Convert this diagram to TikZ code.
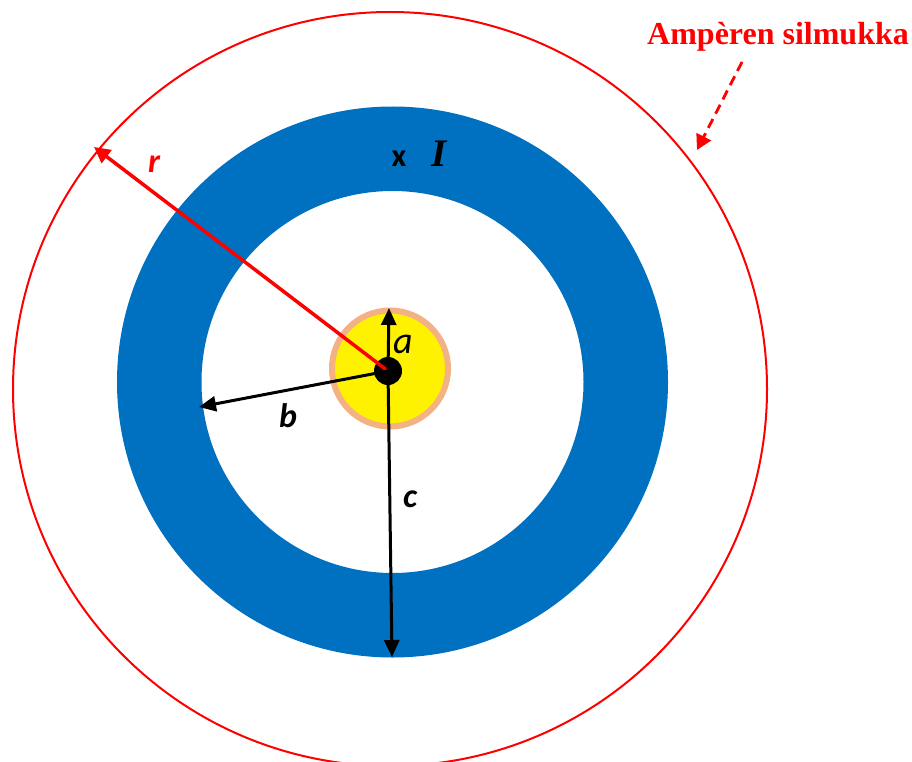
\documentclass[tikz,border=0pt]{standalone}
\usepackage{fontspec}
\setmainfont{Liberation Serif}
\newfontfamily\calib{Carlito}
\usetikzlibrary{arrows.meta}
\definecolor{ringblue}{HTML}{0070C0}
\definecolor{peach}{HTML}{F4B183}
\definecolor{lred}{HTML}{FF0000}
\tikzset{
  blackarrow/.style={line width=3pt, draw=black, -{Triangle[length=17pt,width=15pt]}},
  redarrow/.style={line width=3.5pt, draw=lred, -{Triangle[length=16pt,width=16pt]}},
  dasharrow/.style={line width=2.8pt, draw=lred, dash pattern=on 10pt off 6pt, -{Triangle[length=15pt,width=16pt]}},
  lbl/.style={font=\calib\bfseries\itshape\fontsize{34}{34}\selectfont, inner sep=0pt, anchor=base},
}
\begin{document}
\begin{tikzpicture}[x=1pt,y=-1pt]
\useasboundingbox (0,0) rectangle (912,762);
% Ampere loop
\draw[lred, line width=2pt] (390,389) circle[radius=377];
% blue ring
\fill[ringblue, even odd rule] (392.5,382) circle[radius=275.5] (392.5,382) circle[radius=191];
% inner conductor
\draw[peach, fill=yellow, line width=6pt] (390,368.5) circle[radius=58];
% centre dot
\node[circle, fill=black, minimum size=28pt, inner sep=0pt] (O) at (388,371) {};
\coordinate (Ra) at (389,308);
\coordinate (Rb) at (199,407);
\coordinate (Rc) at (392,657);
\coordinate (Rr) at (94,147);
\coordinate (Ds) at (742,62);
\coordinate (De) at (697,150);
\draw[redarrow] (O.center) -- (Rr);
\draw[blackarrow] (O.center) -- (Ra);
\draw[blackarrow] (O.center) -- (Rb);
\draw[blackarrow] (O.center) -- (Rc);
\draw[dasharrow] (Ds) -- (De);
% labels
\node[lbl, text=lred] (lr) at (154,172) {r};
\node[lbl] (lb) at (288,427) {b};
\node[lbl] (lc) at (410,507) {c};
\node[inner sep=0pt, anchor=base, font=\calib\itshape\fontsize{38}{38}\selectfont] (la) at (403,353) {a};
\node[inner sep=0pt, anchor=base, font=\calib\bfseries\fontsize{32}{32}\selectfont] (lx) at (399,167) {x};
\node[inner sep=0pt, anchor=base west, font=\bfseries\itshape\fontsize{39}{39}\selectfont] (lI) at (431,167) {I};
\node[inner sep=0pt, anchor=base west, text=lred, font=\bfseries\fontsize{32}{32}\selectfont] (title) at (647,45) {Ampèren silmukka};
\end{tikzpicture}
\end{document}
